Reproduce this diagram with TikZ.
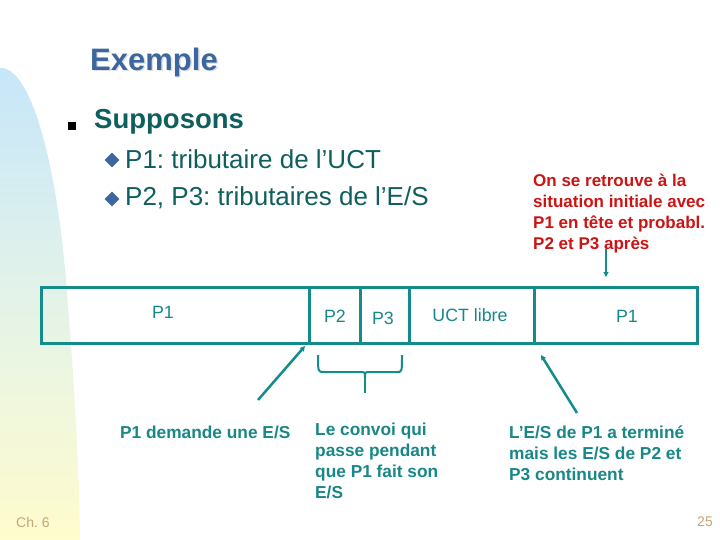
\documentclass[tikz,border=0pt]{standalone}
\usepackage{fontspec}
\setmainfont{Liberation Sans}
\usetikzlibrary{arrows.meta}
\definecolor{tealbox}{RGB}{20,140,140}
\definecolor{tealtxt}{RGB}{25,135,135}
\definecolor{darkteal}{RGB}{15,95,95}
\definecolor{titleblue}{RGB}{60,102,160}
\definecolor{redtxt}{RGB}{205,20,20}
\definecolor{tan}{RGB}{200,165,120}
\definecolor{bandtop}{RGB}{198,230,250}
\definecolor{bandmid}{RGB}{228,243,232}
\definecolor{bandbot}{RGB}{255,252,205}
\frenchspacing
\begin{document}
\begin{tikzpicture}[x=1pt,y=-1pt,
  cell/.style={draw=tealbox, line width=3pt, minimum height=56pt, inner sep=0pt, anchor=west},
  celllabel/.style={text=tealtxt, font=\fontsize{17.8}{20}\selectfont, inner sep=0pt},
  note/.style={text=tealtxt, font=\fontsize{17.3}{21}\selectfont\bfseries, align=left, inner sep=0pt, anchor=north west},
  conn/.style={draw=tealbox, line width=2.5pt, -{Triangle[length=5pt,width=5pt]}},
  footer/.style={text=tan, font=\fontsize{14}{16}\selectfont, inner sep=0pt}
]
\useasboundingbox (0,0) rectangle (720,540);
\fill[white] (0,0) rectangle (720,540);
% background band
\shade[top color=bandtop, bottom color=bandbot, middle color=bandmid]
  (0,540) -- (0,68) .. controls (30,66) and (56,160) .. (66,280)
  .. controls (74,380) and (79,460) .. (80,540) -- cycle;
% title
\node[text=gray!25, font=\fontsize{31}{36}\selectfont\bfseries, inner sep=0pt] at (155.5,63.5) {Exemple};
\node[text=titleblue, font=\fontsize{31}{36}\selectfont\bfseries, inner sep=0pt] (title) at (154,62) {Exemple};
% bullets
\node[fill=black, minimum size=8pt, inner sep=0pt] (sq) at (72,126) {};
\node[text=darkteal, font=\fontsize{27.5}{32}\selectfont\bfseries, inner sep=0pt, anchor=west] (supp) at (94,122) {Supposons};
\node[fill=titleblue, rotate=45, minimum size=10.5pt, inner sep=0pt] (d1) at (112,160) {};
\node[text=darkteal, font=\fontsize{26}{30}\selectfont, inner sep=0pt, anchor=west] (l1) at (125,159) {P1: tributaire de l’UCT};
\node[fill=titleblue, rotate=45, minimum size=10.5pt, inner sep=0pt] (d2) at (112,199) {};
\node[text=darkteal, font=\fontsize{26}{30}\selectfont, inner sep=0pt, anchor=west] (l2) at (125,198) {P2, P3: tributaires de l’E/S};
% red note
\node[text=redtxt, font=\fontsize{17}{21}\selectfont\bfseries, align=left, inner sep=0pt, anchor=north west] (red) at (533,174) {On se retrouve à la\\situation initiale avec\\P1 en tête et probabl.\\P2 et P3 après};
% cells
\node[cell, minimum width=268pt] (c1) at (40,315) {};
\node[cell, minimum width=51pt] (c2) at (308,315) {};
\node[cell, minimum width=49pt] (c3) at (359,315) {};
\node[cell, minimum width=125pt] (c4) at (408,315) {};
\node[cell, minimum width=163pt] (c5) at (533,315) {};
\node[celllabel] (t1) at (163,312) {P1};
\node[celllabel] (t2) at (335,316) {P2};
\node[celllabel] (t3) at (383,318) {P3};
\node[celllabel] (t4) at (470,315) {UCT libre};
\node[celllabel] (t5) at (627,316) {P1};
% notes
\node[note] (n1) at (120,426) {P1 demande une E/S};
\node[note] (n2) at (315,423) {Le convoi qui\\passe pendant\\que P1 fait son\\E/S};
\node[note] (n3) at (509,426) {L’E/S de P1 a terminé\\mais les E/S de P2 et\\P3 continuent};
% connectors
\coordinate (a1s) at (258,400);
\coordinate (a1e) at (305,346);
\draw[conn] (a1s) -- (a1e);
\coordinate (a3s) at (577,413);
\coordinate (a3e) at (541,355);
\draw[conn] (a3s) -- (a3e);
\coordinate (a4s) at (606,249);
\coordinate (a4e) at (606,277);
\draw[draw=tealbox, line width=1.8pt, -{Triangle[length=5pt,width=5pt]}] (a4s) -- (a4e);
% brace
\draw[tealbox, line width=2pt, line join=round]
  (318,355) .. controls (318,372) .. (324,372) -- (360,372) .. controls (365,372) .. (365,378)
  .. controls (365,372) .. (370,372) -- (397,372) .. controls (402,372) .. (402,355);
\draw[tealbox, line width=2pt] (365,376) -- (365,393);
% footers
\node[footer, anchor=west] (ch) at (16,522) {Ch. 6};
\node[footer, anchor=east] (pg) at (713,522) {25};
\end{tikzpicture}
\end{document}
